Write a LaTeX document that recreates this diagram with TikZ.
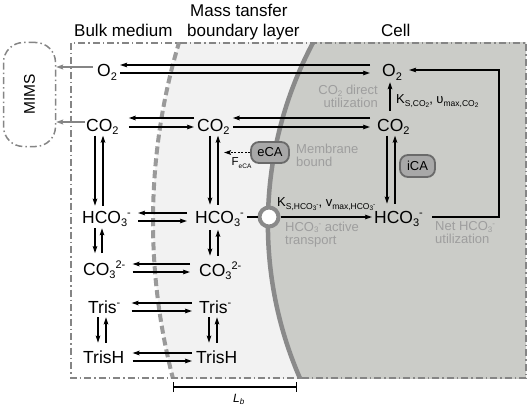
\documentclass[tikz,border=0pt]{standalone}
\usepackage{fontspec}
\setmainfont{Liberation Sans}
\usetikzlibrary{arrows.meta,calc}
\definecolor{cellgray}{HTML}{CBCCC8}
\definecolor{lightzone}{HTML}{F2F2F2}
\definecolor{memb}{HTML}{8A8A8A}
\definecolor{bdash}{HTML}{9A9A9A}
\definecolor{framec}{HTML}{858585}
\definecolor{graytext}{HTML}{9E9E9E}
\definecolor{cafill}{HTML}{A8A8A8}
\definecolor{caline}{HTML}{6A6A6A}
\newcommand\splo[1]{\raisebox{-3.5pt}{\fontsize{11}{11}\selectfont #1}}
\newcommand\sphi[1]{\raisebox{6.5pt}{\fontsize{11}{11}\selectfont #1}}
\newcommand\nlo[1]{\raisebox{-1.8pt}{\fontsize{8}{8}\selectfont #1}}
\newcommand\nhi[1]{\raisebox{4.5pt}{\fontsize{8}{8}\selectfont #1}}
\newcommand\klo[1]{\raisebox{-3pt}{\fontsize{8.5}{8.5}\selectfont #1}}
\newcommand\kklo[1]{\raisebox{-1.5pt}{\fontsize{6.5}{6.5}\selectfont #1}}
\newcommand\kkhi[1]{\raisebox{2.5pt}{\fontsize{6.5}{6.5}\selectfont #1}}
\newcommand\hpair[6]{%
  \draw[arr] ($(#2.west|-0,#3)+(-#6,0)$) -- ($(#1.east|-0,#3)+(#5,0)$);
  \draw[arr] ($(#1.east|-0,#4)+(#5,0)$) -- ($(#2.west|-0,#4)+(-#6,0)$);}
\newcommand\vpair[6]{%
  \draw[arr] ($(#1.south -| #3,0)+(0,#5)$) -- ($(#2.north -| #3,0)+(0,-#6)$);
  \draw[arr] ($(#2.north -| #4,0)+(0,-#6)$) -- ($(#1.south -| #4,0)+(0,#5)$);}
\tikzset{
  species/.style={inner sep=0pt, anchor=base west, font=\fontsize{17.5}{20}\selectfont},
  heading/.style={inner sep=0pt, anchor=base west, font=\fontsize{17}{20}\selectfont},
  note/.style={inner sep=0pt, text=graytext, font=\fontsize{13}{13}\selectfont},
  klabel/.style={inner sep=0pt, anchor=base west, font=\fontsize{13}{15}\selectfont},
  arr/.style={line width=1.2pt, -{Stealth[length=7pt,width=4.6pt,inset=1.2pt]}},
  garr/.style={draw=framec, line width=1.4pt, -{Stealth[length=7pt,width=5pt,inset=1.2pt]}},
  enzyme/.style={draw=caline, line width=1.8pt, fill=cafill, rounded corners=8pt, inner sep=0pt, font=\fontsize{13}{15}\selectfont},
  dashdotframe/.style={draw=framec, line width=1.5pt, dash pattern=on 7pt off 3pt on 1.5pt off 3pt},
}
\begin{document}
\begin{tikzpicture}[x=1pt,y=-1pt]
\useasboundingbox (0,0) rectangle (529,409);
% zones
\begin{scope}
\clip (71,43) rectangle (526,378);
\fill[lightzone] (776.5,221.3) circle (623.5pt);
\fill[cellgray] (653.9,224) circle (386pt);
\draw[bdash, line width=4pt, dash pattern=on 8pt off 4pt] (776.5,221.3) circle (623.5pt);
\draw[memb, line width=4.5pt] (653.9,224) circle (386pt);
\end{scope}
\draw[dashdotframe] (71,43) rectangle (526,378);
% MIMS
\node[dashdotframe, rounded corners=20pt, minimum width=52pt, minimum height=104pt, inner sep=0pt] (mims) at (29.5,94.5) {};
\node[rotate=90, inner sep=0pt, font=\fontsize{15.5}{18}\selectfont] (mimstext) at (mims.center) {MIMS};
% headings
\node[heading] (hbulk) at (74,37) {Bulk medium};
\node[heading] (hmass1) at (190,17) {Mass tansfer};
\node[heading] (hmass2) at (187,37) {boundary layer};
\node[heading] (hcell) at (381,37) {Cell};
% species
\node[species] (bO2) at (97,77) {O\splo{2}};
\node[species] (cO2) at (382,77) {O\splo{2}};
\node[species] (bCO2) at (86,131) {CO\splo{2}};
\node[species] (mCO2) at (197,131) {CO\splo{2}};
\node[species] (cCO2) at (377,131) {CO\splo{2}};
\node[species] (bHCO3) at (82,223) {HCO\splo{3}\sphi{-}};
\node[species] (mHCO3) at (195,223) {HCO\splo{3}\sphi{-}};
\node[species] (cHCO3) at (374,223) {HCO\splo{3}\sphi{-}};
\node[species] (bCO3) at (83,275) {CO\splo{3}\sphi{2-}};
\node[species] (mCO3) at (199,276) {CO\splo{3}\sphi{2-}};
\node[species] (bTris) at (88,313) {Tris\sphi{-}};
\node[species] (mTris) at (199,313) {Tris\sphi{-}};
\node[species] (bTrisH) at (83,363) {TrisH};
\node[species] (mTrisH) at (196,363) {TrisH};
% exchange arrows
\hpair{bO2}{cO2}{65}{73}{3}{12}
\hpair{bCO2}{mCO2}{118}{127}{10}{3}
\hpair{mCO2}{cCO2}{118}{127}{3}{7}
\hpair{bHCO3}{mHCO3}{213}{221}{7}{8}
\hpair{bCO3}{mCO3}{264}{272}{7}{9}
\hpair{bTris}{mTris}{303}{311}{11}{7}
\hpair{bTrisH}{mTrisH}{353}{361}{8}{4}
\vpair{bCO2}{bHCO3}{95}{103}{1}{5}
\vpair{mCO2}{mHCO3}{210}{218}{1}{6}
\vpair{cCO2}{cHCO3}{387}{395}{1}{7}
\vpair{bHCO3}{bCO3}{95}{102}{1.5}{7.5}
\vpair{mHCO3}{mCO3}{210}{218}{3}{6}
\vpair{bTris}{bTrisH}{98}{106}{4}{7.5}
\vpair{mTris}{mTrisH}{209}{217}{4}{7.5}
\draw[arr] ($(cCO2.north -| 390,0)+(0,-8)$) -- ($(cO2.south -| 390,0)+(0,1.5)$);
% to MIMS
\draw[garr] ($(bO2.west|-0,67)+(-4,0)$) -- (mims.east|-0,67);
\draw[garr] ($(bCO2.west|-0,122)+(-1,0)$) -- (mims.east|-0,122);
% active transport
\node[circle, draw=memb, line width=4pt, fill=white, minimum size=19pt, inner sep=0pt] (trans) at (269,217) {};
\draw[line width=1.2pt] ($(mHCO3.east|-0,217)+(3,0)$) -- (trans.west);
\draw[arr] (trans.east) -- ($(cHCO3.west|-0,217)+(-2,0)$);
\node[klabel] (khco3) at (277,206) {K\klo{S,HCO\kklo{3}\kkhi{-}}, v\klo{max,HCO\kklo{3}\kkhi{-}}};
\node[klabel] (kco2) at (396,103) {K\klo{S,CO\kklo{2}}, υ\klo{max,CO\kklo{2}}};
% eCA
\node[enzyme, minimum width=38pt, minimum height=21pt] (eca) at (270,152.5) {eCA};
\coordinate (feca) at (224,152.5);
\draw[line width=1.2pt, dash pattern=on 2pt off 1.5pt, -{Stealth[length=7pt,width=4.6pt,inset=1.2pt]}] (eca.west) -- (feca);
\node[klabel, font=\fontsize{11.5}{13}\selectfont] (flabel) at (231.5,165) {F\raisebox{-3pt}{\fontsize{6.5}{7}\selectfont eCA}};
% iCA
\node[enzyme, minimum width=35pt, minimum height=22pt] (ica) at (417.5,166) {iCA};
% net utilization
\coordinate (netc) at (499,70);
\draw[arr] ($(cHCO3.east|-0,217)+(9,0)$) -| (netc) -- ($(cO2.east|-0,70)+(7,0)$);
% notes
\node[note, anchor=north east, align=right] (direct) at (378,85) {CO\nlo{2} direct\\utilization};
\node[note, anchor=north west, align=left] (mbound) at (296,143.5) {Membrane\\bound};
\node[note, anchor=north west, align=left] (atrans) at (285,221.5) {HCO\nlo{3}\nhi{-} active\\transport};
\node[note, anchor=north west, align=left] (netu) at (435,221.5) {Net HCO\nlo{3}\nhi{-}\\utilization};
% Lb
\coordinate (lbl) at (173,387);
\coordinate (lbr) at (297,387);
\draw[line width=1.2pt, {Bar[width=10pt]}-{Bar[width=10pt]}] (lbl) -- (lbr);
\node[inner sep=0pt, anchor=base west, font=\fontsize{12}{14}\selectfont] (lb) at (233,402) {\textit{L}\raisebox{-2pt}{\fontsize{8}{8}\selectfont\textit{b}}};
\end{tikzpicture}
\end{document}
